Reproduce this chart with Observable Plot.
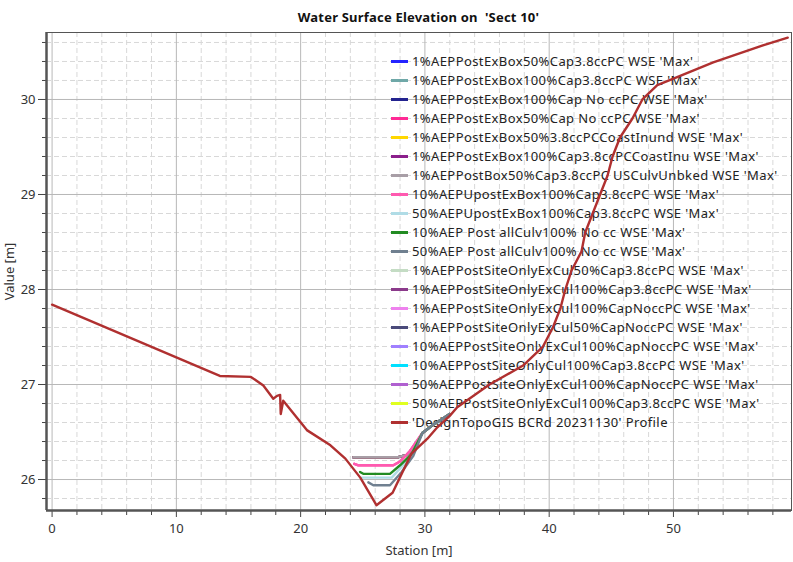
<!DOCTYPE html>
<html>
<head>
<meta charset="utf-8">
<script src="https://cdn.jsdelivr.net/npm/d3@7"></script>
<script src="https://cdn.jsdelivr.net/npm/@observablehq/plot@0.6"></script>
<style>
  body { margin: 0; background: #fff; font-family: "Noto Sans", sans-serif; }
  #wrap { position: relative; width: 793px; height: 562px; }
  #title { height: 26px; box-sizing: border-box; padding-top: 9px; line-height: 16px; font-size: 13px; letter-spacing: 0.2px; font-weight: bold; color: #111; text-align: center; width: 793px; padding-left: 44px; }
  #legend { position: absolute; left: 391px; top: 52px; z-index: 1; font-size: 13px; letter-spacing: 0.4px; color: #222; }
  #legend .row { height: 19px; line-height: 19px; white-space: nowrap; display: flex; align-items: center; }
  #legend .sw { width: 17px; height: 3px; margin-right: 4px; }
  #chart { position: relative; z-index: 0; }
  #lines { position: absolute; left: 0; top: 26px; z-index: 2; }
</style>
</head>
<body>
<div id="wrap">
  <div id="title">Water Surface Elevation on&nbsp; 'Sect 10'</div>
  <div id="legend"></div>
  <div id="chart"></div>
  <div id="lines"></div>
</div>
<script>
// Ground profile
const groundStation = [0, 13.5, 16.0, 17.0, 17.8, 18.1, 18.35, 18.4, 18.6, 20.5, 22.4, 23.6, 24.8, 26.1, 27.4, 28.9, 30.2, 31.0, 32.0, 32.6, 35.2, 37.9, 39.5, 40.3, 40.9, 41.3, 41.8, 42.6, 42.9, 43.5, 44.1, 44.7, 45.1, 45.7, 46.7, 47.5, 48.7, 50.0, 53.2, 57.2, 59.2];
const groundElev = [27.84, 27.09, 27.08, 26.99, 26.85, 26.88, 26.89, 26.69, 26.83, 26.52, 26.36, 26.22, 26.02, 25.73, 25.86, 26.27, 26.43, 26.55, 26.67, 26.76, 27.0, 27.2, 27.4, 27.6, 27.8, 28.0, 28.2, 28.4, 28.6, 28.8, 29.0, 29.2, 29.4, 29.6, 29.8, 30.0, 30.15, 30.22, 30.39, 30.57, 30.65];

// Water surface profiles (grouped by level)
const wseTopStation = [24.24, 27.86, 28.54, 29.2, 29.8, 30.6, 31.3, 32.0];
const wseTopElev = [26.235, 26.235, 26.26, 26.35, 26.49, 26.57, 26.63, 26.69];
const wsePinkStation = [24.32, 24.64, 27.46, 28.0, 28.8, 29.8, 30.6, 31.3, 32.0];
const wsePinkElev = [26.165, 26.15, 26.15, 26.19, 26.3, 26.49, 26.57, 26.63, 26.69];
const wseGreenStation = [24.78, 25.04, 27.19, 28.0, 28.94, 29.8, 30.6, 31.3, 32.0];
const wseGreenElev = [26.08, 26.06, 26.06, 26.15, 26.27, 26.49, 26.57, 26.63, 26.69];
const wseBlueStation = [24.91, 27.33, 28.1, 29.0, 29.8, 30.6, 31.3, 32.0];
const wseBlueElev = [26.02, 26.02, 26.13, 26.28, 26.49, 26.57, 26.63, 26.69];
const wseSlateStation = [25.45, 25.85, 27.19, 28.13, 29.07, 29.8, 30.6, 31.3, 32.0];
const wseSlateElev = [25.97, 25.94, 25.94, 26.08, 26.25, 26.49, 26.57, 26.63, 26.69];

const seriesNames = [
  "1%AEPPostExBox50%Cap3.8ccPC WSE 'Max'",
  "1%AEPPostExBox100%Cap3.8ccPC WSE 'Max'",
  "1%AEPPostExBox100%Cap No ccPC WSE 'Max'",
  "1%AEPPostExBox50%Cap No ccPC WSE 'Max'",
  "1%AEPPostExBox50%3.8ccPCCoastInund WSE 'Max'",
  "1%AEPPostExBox100%Cap3.8ccPCCoastInu WSE 'Max'",
  "1%AEPPostBox50%Cap3.8ccPC USCulvUnbked WSE 'Max'",
  "10%AEPUpostExBox100%Cap3.8ccPC WSE 'Max'",
  "50%AEPUpostExBox100%Cap3.8ccPC WSE 'Max'",
  "10%AEP Post allCulv100% No cc WSE 'Max'",
  "50%AEP Post allCulv100% No cc WSE 'Max'",
  "1%AEPPostSiteOnlyExCul50%Cap3.8ccPC WSE 'Max'",
  "1%AEPPostSiteOnlyExCul100%Cap3.8ccPC WSE 'Max'",
  "1%AEPPostSiteOnlyExCul100%CapNoccPC WSE 'Max'",
  "1%AEPPostSiteOnlyExCul50%CapNoccPC WSE 'Max'",
  "10%AEPPostSiteOnlyExCul100%CapNoccPC WSE 'Max'",
  "10%AEPPostSiteOnlyCul100%Cap3.8ccPC WSE 'Max'",
  "50%AEPPostSiteOnlyExCul100%CapNoccPC WSE 'Max'",
  "50%AEPPostSiteOnlyExCul100%Cap3.8ccPC WSE 'Max'",
  "'DesignTopoGIS BCRd 20231130' Profile"
];
// which profile each series follows (null = no values at this section)
const seriesLevel = ["top", "top", "top", "pink", "top", "top", "top", "pink", "blue", "green", "slate", null, null, null, null, null, null, null, null, "ground"];
const seriesColors = ["#2424ff", "#6fa8a8", "#23238f", "#ff2a95", "#ffd700", "#8b1f8b", "#a89ea6", "#ff5ab0", "#b0dce6", "#228b22", "#708090", "#c4dcc4", "#8b3a8b", "#ee82ee", "#4a4a7a", "#a080ff", "#00e0ff", "#b060d0", "#e0ff20", "#b03030"];

const xTicks = [0, 10, 20, 30, 40, 50];
const yTicks = [26, 27, 28, 29, 30];

const profiles = {
  top: [wseTopStation, wseTopElev],
  pink: [wsePinkStation, wsePinkElev],
  green: [wseGreenStation, wseGreenElev],
  blue: [wseBlueStation, wseBlueElev],
  slate: [wseSlateStation, wseSlateElev],
  ground: [groundStation, groundElev]
};

const xDomain = [-0.45, 59.5];
const yDomain = [25.674, 30.705];
const xMinor = d3.range(0, 60, 2).filter(v => v % 10 !== 0);
const yMinor = d3.range(25.8, 30.75, 0.2).map(v => +v.toFixed(1)).filter(v => Math.abs(v - Math.round(v)) > 1e-6);

const dims = {width: 793, height: 536, marginTop: 6, marginBottom: 52, marginLeft: 46, marginRight: 2};

const basePlot = Plot.plot({
  ...dims,
  style: {background: "transparent", fontFamily: "Noto Sans, sans-serif", fontSize: "13px", color: "#333"},
  x: {domain: xDomain},
  y: {domain: yDomain},
  marks: [
    Plot.gridX(xMinor, {stroke: "#d8d8d8", strokeOpacity: 1, strokeDasharray: "5,3"}),
    Plot.gridY(yMinor, {stroke: "#d8d8d8", strokeOpacity: 1, strokeDasharray: "5,3"}),
    Plot.gridX(xTicks, {stroke: "#b8b8b8", strokeOpacity: 1}),
    Plot.gridY(yTicks, {stroke: "#b8b8b8", strokeOpacity: 1}),
    Plot.axisX(xMinor, {tickSize: 5, text: null, label: null, stroke: "#444"}),
    Plot.axisY(yMinor, {tickSize: 4, text: null, label: null, stroke: "#444"}),
    Plot.axisX(xTicks, {tickSize: 7, tickPadding: 6, tickFormat: d => String(d), label: "Station [m]", labelAnchor: "center", labelOffset: 44, labelArrow: "none", stroke: "#444", fill: "#333"}),
    Plot.axisY(yTicks, {tickSize: 8, tickPadding: 3, tickFormat: d => String(d), label: "Value [m]", labelAnchor: "center", labelOffset: 42, labelArrow: "none", stroke: "#444", fill: "#333"}),
    Plot.frame({stroke: "#555"}),
    Plot.ruleX([xDomain[0]], {stroke: "#555", strokeWidth: 2.5}),
    Plot.ruleY([yDomain[0]], {stroke: "#555", strokeWidth: 2.5})
  ]
});
document.getElementById("chart").appendChild(basePlot);

const lineMarks = [];
seriesNames.forEach((name, i) => {
  const lvl = seriesLevel[i];
  if (!lvl) return;
  const [xs, ys] = profiles[lvl];
  const rows = xs.map((x, j) => ({station: x, value: ys[j], series: name}));
  lineMarks.push(Plot.line(rows, {x: "station", y: "value", stroke: seriesColors[i], strokeWidth: 2.4}));
});

const linesPlot = Plot.plot({
  ...dims,
  style: {background: "transparent"},
  x: {domain: xDomain, axis: null},
  y: {domain: yDomain, axis: null},
  marks: lineMarks
});
document.getElementById("lines").appendChild(linesPlot);

const legendBox = d3.select("#legend");
seriesNames.forEach((name, i) => {
  const row = legendBox.append("div").attr("class", "row");
  row.append("div").attr("class", "sw").style("background", seriesColors[i]);
  row.append("span").text(name);
});
</script>
</body>
</html>
